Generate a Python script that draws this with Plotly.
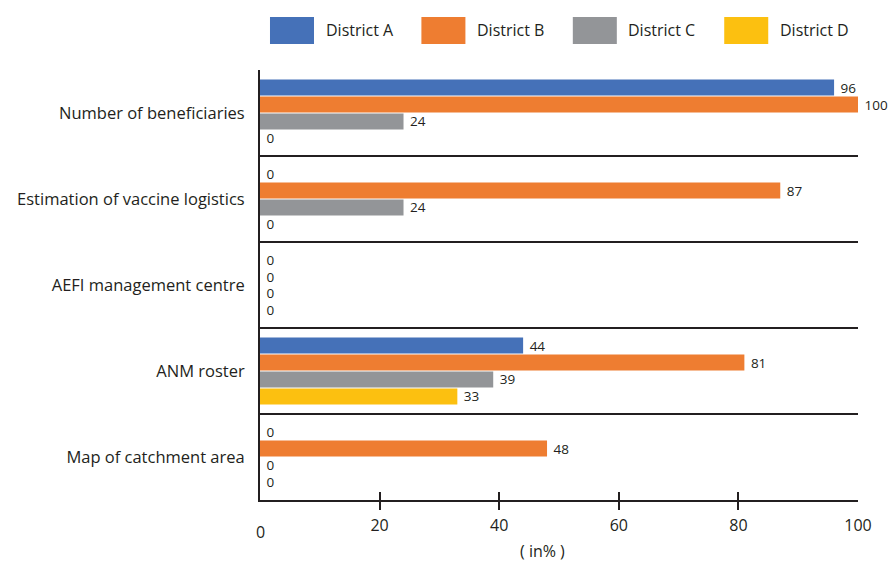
import plotly.graph_objects as go

# Survey items (top to bottom) and share of each district (in %)
categories = [
    "Number of beneficiaries",
    "Estimation of vaccine logistics",
    "AEFI management centre",
    "ANM roster",
    "Map of catchment area",
]
districts = ["District A", "District B", "District C", "District D"]
district_a = [96, 0, 0, 44, 0]
district_b = [100, 87, 0, 81, 48]
district_c = [24, 24, 0, 39, 0]
district_d = [0, 0, 0, 33, 0]
series = [district_a, district_b, district_c, district_d]
colors = ["#4571B8", "#EE7D31", "#939598", "#FCC010"]

x_ticks = [0, 20, 40, 60, 80, 100]

INK = "#231f20"
FONT = "Open Sans"

fig = go.Figure()
for name, vals, col in zip(districts, series, colors):
    fig.add_trace(go.Bar(
        y=categories,
        x=vals,
        name=name,
        orientation="h",
        marker=dict(color=col, line=dict(width=0)),
        text=vals,
        texttemplate="\u00a0%{x}",
        textposition="outside",
        constraintext="none",
        textfont=dict(family=FONT, size=13.5, color=INK),
        cliponaxis=False,
        showlegend=False,
    ))

# invisible trace so the overlaid tick axis is rendered
fig.add_trace(go.Scatter(x=[None], y=[None], xaxis="x2", yaxis="y",
                         showlegend=False, hoverinfo="skip"))

# separator lines between the category groups
shapes = []
for i in range(len(categories) - 1):
    shapes.append(dict(type="line", xref="x", yref="y",
                       x0=x_ticks[0], x1=x_ticks[-1], y0=i + 0.5, y1=i + 0.5,
                       line=dict(color=INK, width=2)))

# custom legend: large swatches with labels
annotations = []
sw_x0, sw_w, step = 0.0167, 0.0736, 0.2532
for k, (name, col) in enumerate(zip(districts, colors)):
    x0 = sw_x0 + k * step
    shapes.append(dict(type="rect", xref="paper", yref="paper",
                       x0=x0, x1=x0 + sw_w, y0=1.0605, y1=1.1233,
                       fillcolor=col, line=dict(width=0)))
    annotations.append(dict(xref="paper", yref="paper", x=x0 + sw_w + 0.016,
                            y=1.092, text=name, showarrow=False,
                            xanchor="left", yanchor="middle",
                            font=dict(family=FONT, size=16, color=INK)))

# the "0" tick label sits a little lower than the rest
annotations.append(dict(xref="x", yref="paper", x=x_ticks[0], y=-0.045,
                        text=str(x_ticks[0]), showarrow=False,
                        xanchor="center", yanchor="top",
                        font=dict(family=FONT, size=16, color=INK)))
annotations.append(dict(xref="paper", yref="paper", x=0.472, y=-0.1186,
                        text="( in% )", showarrow=False,
                        xanchor="center", yanchor="middle",
                        font=dict(family=FONT, size=16, color=INK)))

fig.update_layout(
    width=889, height=563,
    margin=dict(l=260, r=31, t=70, b=63),
    paper_bgcolor="white", plot_bgcolor="white",
    barmode="group", bargap=0.21, bargroupgap=0.06,
    font=dict(family=FONT, color=INK),
    shapes=shapes,
    annotations=annotations,
    xaxis=dict(range=[x_ticks[0], x_ticks[-1]], showgrid=False, zeroline=False,
               showline=True, linecolor=INK, linewidth=2,
               ticks="outside", ticklen=8, tickwidth=2, tickcolor=INK,
               tickmode="array", tickvals=x_ticks[1:-1], showticklabels=False),
    xaxis2=dict(range=[x_ticks[0], x_ticks[-1]], overlaying="x", anchor="y",
                side="bottom", showgrid=False, zeroline=False, showline=False,
                ticks="inside", ticklen=8, tickwidth=2, tickcolor=INK,
                tickmode="array", tickvals=x_ticks[1:],
                ticktext=[str(v) for v in x_ticks[1:]],
                ticklabelstandoff=14,
                tickfont=dict(family=FONT, size=16, color=INK)),
    yaxis=dict(type="category", categoryorder="array", categoryarray=categories,
               autorange="reversed", showgrid=False, zeroline=False,
               showline=True, linecolor=INK, linewidth=2, ticks="",
               ticklabelstandoff=10,
               tickfont=dict(family=FONT, size=16.5, color=INK)),
)

fig.write_html("out.html")
